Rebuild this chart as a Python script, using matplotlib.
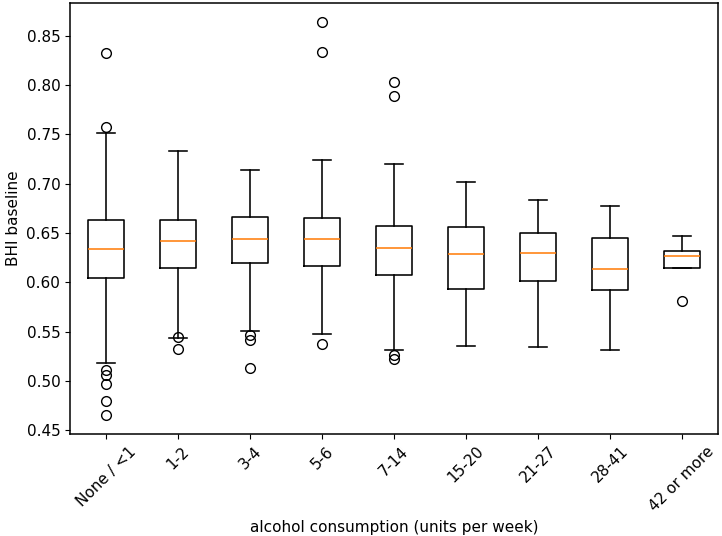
import numpy as np
import matplotlib
matplotlib.use('Agg')
import matplotlib.pyplot as plt

labels = ['None / <1', '1-2', '3-4', '5-6', '7-14', '15-20', '21-27', '28-41', '42 or more']
q1 = [0.6045, 0.6147, 0.6194, 0.6164, 0.6070, 0.5934, 0.6012, 0.5917, 0.6147]
med = [0.6340, 0.6420, 0.6438, 0.6438, 0.6346, 0.6285, 0.6299, 0.6133, 0.6268]
q3 = [0.6630, 0.6630, 0.6660, 0.6648, 0.6573, 0.6556, 0.6495, 0.6451, 0.6313]
whislo = [0.5177, 0.5433, 0.5508, 0.5477, 0.5312, 0.5355, 0.5342, 0.5312, 0.6147]
whishi = [0.7516, 0.7330, 0.7135, 0.7239, 0.7198, 0.7013, 0.6830, 0.6769, 0.6468]
fliers = [
    [0.832, 0.7577, 0.511, 0.5057, 0.4964, 0.4794, 0.4652],
    [0.5447, 0.5325],
    [0.5464, 0.5413, 0.513],
    [0.8639, 0.8338, 0.5372],
    [0.8033, 0.7891, 0.5261, 0.5227],
    [],
    [],
    [],
    [0.5812],
]

stats = []
for i in range(len(labels)):
    stats.append(dict(label=labels[i], q1=q1[i], med=med[i], q3=q3[i],
                      whislo=whislo[i], whishi=whishi[i], fliers=fliers[i]))

plt.rcParams['font.size'] = 11
fig = plt.figure(figsize=(7.22, 5.36), dpi=100)
ax = fig.add_axes([0.097, 0.19, 0.8975, 0.805])
lw = 1.15
ax.bxp(stats, widths=0.5,
       boxprops=dict(linewidth=lw),
       whiskerprops=dict(linewidth=lw),
       capprops=dict(linewidth=lw),
       medianprops=dict(color='#ff7f0e', linewidth=lw),
       flierprops=dict(marker='o', markerfacecolor='none', markeredgecolor='black', markersize=7))
ax.set_xlim(0.5, 9.5)
ax.set_ylim(0.446, 0.8835)
ax.set_yticks([0.45, 0.50, 0.55, 0.60, 0.65, 0.70, 0.75, 0.80, 0.85])
plt.setp(ax.get_xticklabels(), rotation=45)
for s in ax.spines.values():
    s.set_linewidth(1.1)
ax.set_ylabel('BHI baseline')
ax.set_xlabel('alcohol consumption (units per week)')
fig.savefig('out.png', dpi=100)
